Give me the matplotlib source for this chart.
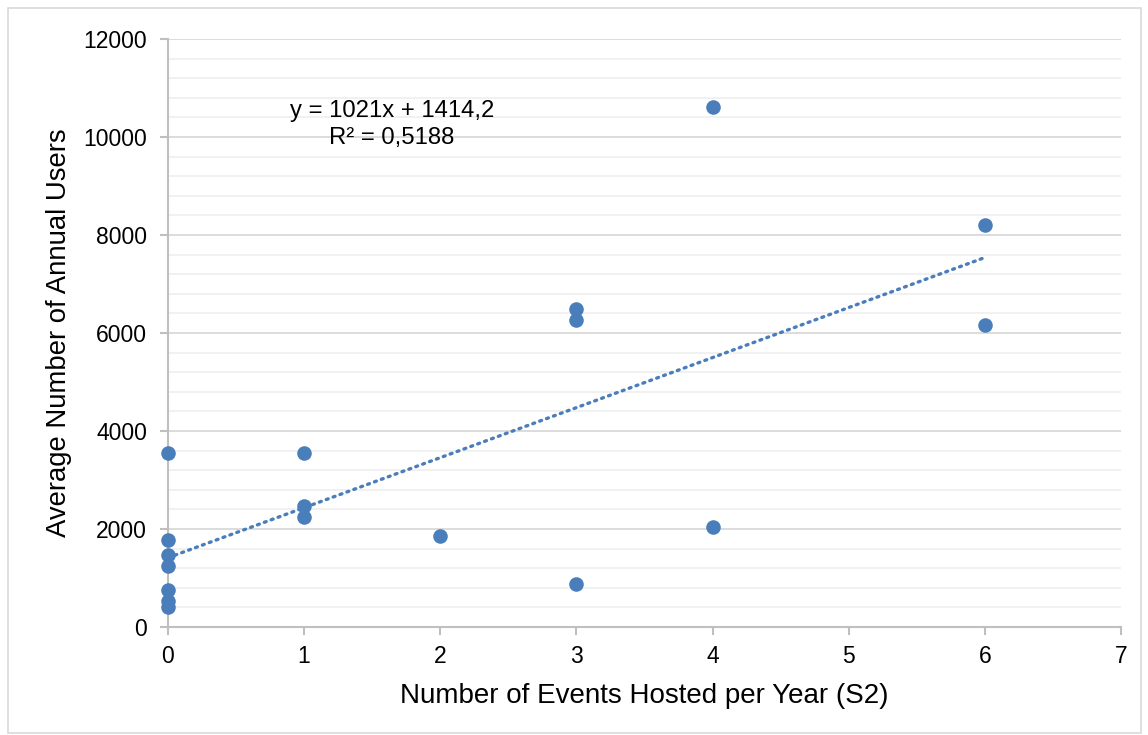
import matplotlib
matplotlib.use("Agg")
import numpy as np
import matplotlib.pyplot as plt
from matplotlib.patches import Rectangle
from matplotlib.ticker import MultipleLocator

plt.rcParams["font.family"] = ["Liberation Sans", "DejaVu Sans"]

# events hosted per year vs. average annual users
events = [0, 0, 0, 0, 0, 0, 0, 1, 1, 1, 2, 3, 3, 3, 4, 4, 6, 6]
users = [3550, 1775, 1470, 1245, 755, 530, 410,
         3550, 2470, 2245, 1855, 6490, 6265, 880, 10610, 2040, 8200, 6160]

slope = 1021
intercept = 1414.2
r2_text = "0,5188"

point_color = "#4a7ebb"

fig = plt.figure(figsize=(11.48, 7.35), dpi=100)
fig.patches.append(Rectangle((8 / 1148, 2 / 735), 1133 / 1148, 725 / 735,
                             transform=fig.transFigure, fill=False,
                             edgecolor="#d9d9d9", linewidth=1.2))

ax = fig.add_axes([0.1463, 0.1469, 0.8302, 0.8001])

ax.set_xlim(0, 7)
ax.set_ylim(0, 12000)
ax.xaxis.set_major_locator(MultipleLocator(1))
ax.yaxis.set_major_locator(MultipleLocator(2000))
ax.yaxis.set_minor_locator(MultipleLocator(400))

ax.grid(axis="y", which="major", color="#d9d9d9", linewidth=1.3)
ax.grid(axis="y", which="minor", color="#f0f0f0", linewidth=1.3)
ax.set_axisbelow(True)

for side in ("top", "right"):
    ax.spines[side].set_visible(False)
for side in ("left", "bottom"):
    ax.spines[side].set_color("#bfbfbf")
    ax.spines[side].set_linewidth(1.5)

ax.tick_params(axis="both", which="major", direction="out", length=6,
               width=1.5, color="#bfbfbf", labelsize=16.5)
ax.tick_params(axis="x", which="major", pad=7)
ax.tick_params(axis="y", which="major", pad=9)
ax.tick_params(axis="y", which="minor", length=0)

# linear trend line from the fitted coefficients
xs = np.array([0, 6])
ax.plot(xs, slope * xs + intercept, linestyle=(0, (0.6, 1.6)),
        color=point_color, linewidth=2.4, dash_capstyle="round", zorder=2)

ax.scatter(events, users, s=110, color=point_color, zorder=3,
           linewidths=0, clip_on=False)

ax.text(1.645, 10250, f"y = {slope}x + {str(intercept).replace('.', ',')}\nR² = {r2_text}",
        ha="center", va="center", fontsize=17.2, linespacing=1.28)

ax.set_xlabel("Number of Events Hosted per Year (S2)", fontsize=20, labelpad=11)
ax.set_ylabel("Average Number of Annual Users", fontsize=19.8, labelpad=8)

fig.savefig("out.png", dpi=100)
